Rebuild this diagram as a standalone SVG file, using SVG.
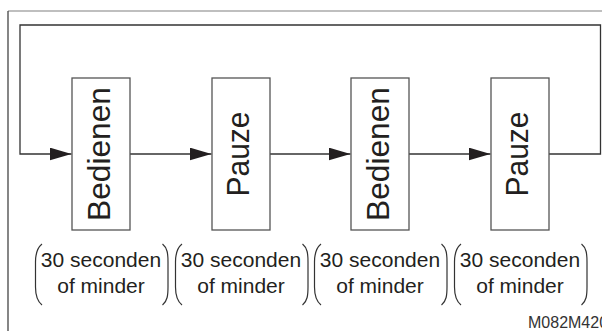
<svg xmlns="http://www.w3.org/2000/svg" width="602" height="331" viewBox="0 0 602 331">
<defs>
<style>
.box{fill:#fff;stroke:#555;stroke-width:1.3}
.ln{fill:none;stroke:#333;stroke-width:1.3}
.par{fill:none;stroke:#333;stroke-width:1.2}
.bt{font-family:"Liberation Sans",Arial,sans-serif;font-size:32px;fill:#231f20;text-anchor:middle}
.lt{font-family:"Liberation Sans",Arial,sans-serif;font-size:21px;fill:#231f20;text-anchor:middle}
.id{font-family:"Liberation Sans",Arial,sans-serif;font-size:16px;fill:#333}
</style>
<marker id="ah" markerUnits="userSpaceOnUse" markerWidth="22" markerHeight="13" refX="22" refY="6.5" orient="auto">
<path d="M0,0 L22,6.5 L0,13 Z" fill="#231f20"/>
</marker>
</defs>
<rect width="602" height="331" fill="#fff"/>
<g id="frame">
<line x1="8" y1="11" x2="602" y2="11" stroke="#aaa" stroke-width="1.5"/>
<line x1="8" y1="11" x2="8" y2="331" stroke="#444" stroke-width="1.3"/>
</g>
<g id="connectors">
<path class="ln" d="M549,154 L600.5,154 L600.5,25 L20,25 L20,154 L71.5,154" marker-end="url(#ah)"/>
<line class="ln" x1="130" y1="154" x2="211.5" y2="154" marker-end="url(#ah)"/>
<line class="ln" x1="270" y1="154" x2="350.5" y2="154" marker-end="url(#ah)"/>
<line class="ln" x1="409" y1="154" x2="490.5" y2="154" marker-end="url(#ah)"/>
</g>
<g id="node1">
<rect class="box" x="72" y="78" width="58" height="152"/>
<text class="bt" transform="translate(110,154) rotate(-90)" textLength="134" lengthAdjust="spacingAndGlyphs">Bedienen</text>
</g>
<g id="node2">
<rect class="box" x="212" y="78" width="58" height="152"/>
<text class="bt" transform="translate(249,154) rotate(-90)" textLength="85" lengthAdjust="spacingAndGlyphs">Pauze</text>
</g>
<g id="node3">
<rect class="box" x="351" y="78" width="58" height="152"/>
<text class="bt" transform="translate(389,154) rotate(-90)" textLength="134" lengthAdjust="spacingAndGlyphs">Bedienen</text>
</g>
<g id="node4">
<rect class="box" x="491" y="78" width="58" height="152"/>
<text class="bt" transform="translate(528,154) rotate(-90)" textLength="85" lengthAdjust="spacingAndGlyphs">Pauze</text>
</g>
<g id="label1" transform="translate(101,0)">
<path class="par" d="M-59,244 C-64,248 -65.5,254 -65.5,262 L-65.5,287 C-65.5,295 -64,301 -59,305"/>
<path class="par" d="M61.5,244 C66.5,248 67,254 67,262 L67,287 C67,295 66.5,301 61.5,305"/>
<text class="lt" x="0" y="267">30 seconden</text>
<text class="lt" x="0" y="293">of minder</text>
</g>
<g id="label2" transform="translate(241,0)">
<path class="par" d="M-59,244 C-64,248 -65.5,254 -65.5,262 L-65.5,287 C-65.5,295 -64,301 -59,305"/>
<path class="par" d="M61.5,244 C66.5,248 67,254 67,262 L67,287 C67,295 66.5,301 61.5,305"/>
<text class="lt" x="0" y="267">30 seconden</text>
<text class="lt" x="0" y="293">of minder</text>
</g>
<g id="label3" transform="translate(380,0)">
<path class="par" d="M-59,244 C-64,248 -65.5,254 -65.5,262 L-65.5,287 C-65.5,295 -64,301 -59,305"/>
<path class="par" d="M61.5,244 C66.5,248 67,254 67,262 L67,287 C67,295 66.5,301 61.5,305"/>
<text class="lt" x="0" y="267">30 seconden</text>
<text class="lt" x="0" y="293">of minder</text>
</g>
<g id="label4" transform="translate(520,0)">
<path class="par" d="M-59,244 C-64,248 -65.5,254 -65.5,262 L-65.5,287 C-65.5,295 -64,301 -59,305"/>
<path class="par" d="M61.5,244 C66.5,248 67,254 67,262 L67,287 C67,295 66.5,301 61.5,305"/>
<text class="lt" x="0" y="267">30 seconden</text>
<text class="lt" x="0" y="293">of minder</text>
</g>
<text class="id" x="528" y="328">M082M420</text>
</svg>
